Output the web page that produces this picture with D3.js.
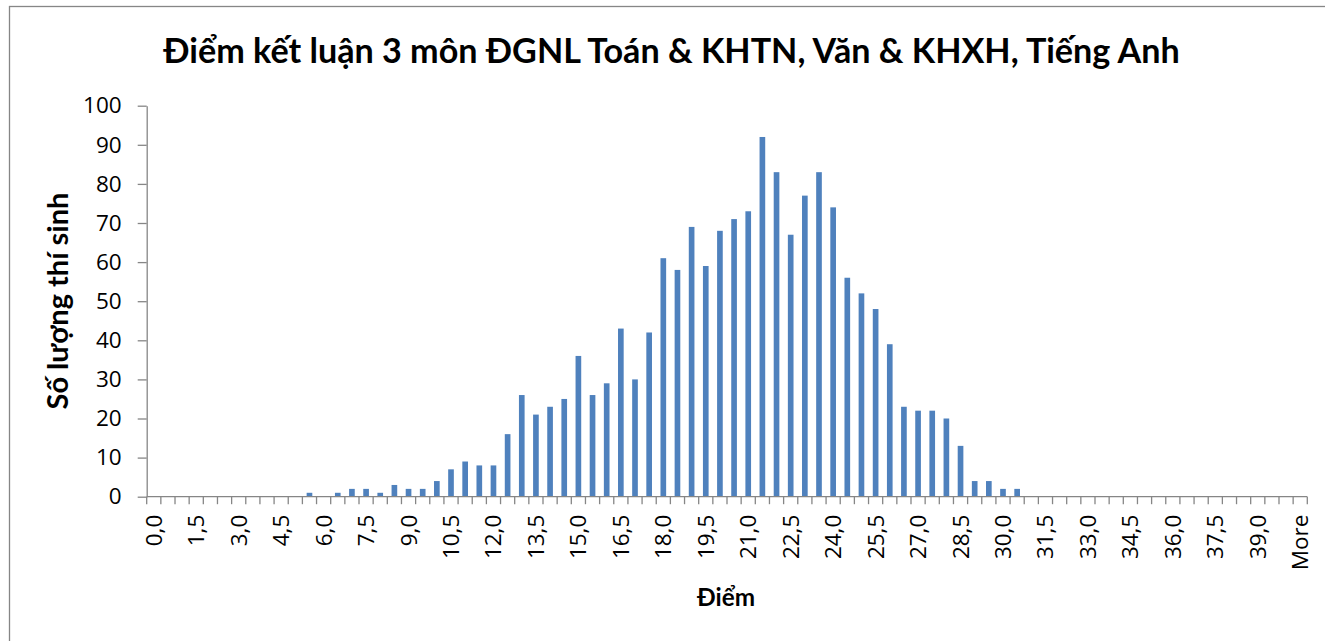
<!DOCTYPE html>
<html>
<head>
<meta charset="utf-8">
<script src="https://cdn.jsdelivr.net/npm/d3@7"></script>
<style>
    body { margin: 0; background: #fff; }
    svg { display: block; font-family: "Open Sans", sans-serif; }
    .axis path, .axis line { stroke: #868686; }
</style>
</head>
<body>
<svg id="canvas" width="1325" height="641"></svg>
<script>
const WIDTH = 1325;
const HEIGHT = 641;
const AXIS_COLOR = "#868686";
const BAR_COLOR = "#4F81BD";
const TITLE_FONT = "Lato, 'Open Sans', sans-serif";

// score bins as shown on the category axis (Excel histogram output)
var categories = [
    "0,0", "0,5", "1,0", "1,5", "2,0", "2,5", "3,0", "3,5", "4,0", "4,5",
    "5,0", "5,5", "6,0", "6,5", "7,0", "7,5", "8,0", "8,5", "9,0", "9,5",
    "10,0", "10,5", "11,0", "11,5", "12,0", "12,5", "13,0", "13,5", "14,0", "14,5",
    "15,0", "15,5", "16,0", "16,5", "17,0", "17,5", "18,0", "18,5", "19,0", "19,5",
    "20,0", "20,5", "21,0", "21,5", "22,0", "22,5", "23,0", "23,5", "24,0", "24,5",
    "25,0", "25,5", "26,0", "26,5", "27,0", "27,5", "28,0", "28,5", "29,0", "29,5",
    "30,0", "30,5", "31,0", "31,5", "32,0", "32,5", "33,0", "33,5", "34,0", "34,5",
    "35,0", "35,5", "36,0", "36,5", "37,0", "37,5", "38,0", "38,5", "39,0", "39,5",
    "40,0", "More"
];

// number of candidates per bin
var counts = [
    0, 0, 0, 0, 0, 0, 0, 0, 0, 0,
    0, 1, 0, 1, 2, 2, 1, 3, 2, 2,
    4, 7, 9, 8, 8, 16, 26, 21, 23, 25,
    36, 26, 29, 43, 30, 42, 61, 58, 69, 59,
    68, 71, 73, 92, 83, 67, 77, 83, 74, 56,
    52, 48, 39, 23, 22, 22, 20, 13, 4, 4,
    2, 2, 0, 0, 0, 0, 0, 0, 0, 0,
    0, 0, 0, 0, 0, 0, 0, 0, 0, 0,
    0, 0
];

// only every third bin gets a label
var tickLabels = categories.filter(function(c, i){ return i % 3 == 0; });
var yTicks = [0, 10, 20, 30, 40, 50, 60, 70, 80, 90, 100];

const title = "Điểm kết luận 3 môn ĐGNL Toán & KHTN, Văn & KHXH, Tiếng Anh";
const yTitle = "Số lượng thí sinh";
const xTitle = "Điểm";

var margin = {left: 146.7, right: WIDTH - 1307.3, top: 105.7, bottom: HEIGHT - 496.7};

var svg = d3.select("#canvas");

// chart frame (runs off the right and bottom edge)
svg.append("rect")
    .attr("x", 9.5)
    .attr("y", 6.5)
    .attr("width", WIDTH + 20)
    .attr("height", HEIGHT + 20)
    .attr("fill", "none")
    .attr("stroke", AXIS_COLOR)
    .attr("stroke-width", 1.3);

var x = d3.scaleBand()
    .domain(categories)
    .range([margin.left, WIDTH - margin.right])
    .paddingInner(0.6)
    .paddingOuter(0.3);

var y = d3.scaleLinear()
    .domain([0, 100])
    .range([HEIGHT - margin.bottom, margin.top]);

var step = x.step();
var x0 = margin.left;

// bars
svg.append("g")
    .selectAll("rect")
    .data(counts)
    .enter()
    .append("rect")
    .attr("x", function(d, i){ return x(categories[i]); })
    .attr("width", x.bandwidth())
    .attr("y", function(d){ return y(d); })
    .attr("height", function(d){ return y(0) - y(d); })
    .attr("fill", BAR_COLOR);

// y axis
var yAxis = svg.append("g")
    .attr("class", "axis")
    .attr("transform", "translate(" + x0 + ",0)")
    .call(d3.axisLeft(y).tickValues(yTicks).tickSize(9).tickSizeOuter(0).tickPadding(16));
yAxis.selectAll("path, line").attr("stroke-width", 1.3);
yAxis.selectAll("text")
    .attr("font-size", 22.5)
    .attr("fill", "#000")
    .attr("font-family", "Open Sans");

// x axis: line plus ticks between categories
var xAxis = svg.append("g").attr("class", "axis");
xAxis.append("line")
    .attr("x1", x0)
    .attr("x2", WIDTH - margin.right)
    .attr("y1", y(0))
    .attr("y2", y(0))
    .attr("stroke-width", 1.3);

var boundaries = d3.range(categories.length + 1);
xAxis.selectAll(".bTick")
    .data(boundaries)
    .enter()
    .append("line")
    .attr("x1", function(b){ return x0 + b*step; })
    .attr("x2", function(b){ return x0 + b*step; })
    .attr("y1", y(0))
    .attr("y2", y(0) + 7.5)
    .attr("stroke-width", 1.3);

svg.append("g")
    .selectAll("text")
    .data(tickLabels)
    .enter()
    .append("text")
    .attr("transform", function(d){
        var cx = x(d) + x.bandwidth()/2 + 8;
        return "translate(" + cx + "," + (y(0) + 18) + ") rotate(-90)";
    })
    .attr("text-anchor", "end")
    .attr("font-size", 22.5)
    .text(function(d){ return d; });

/**
 * shrink or grow a text node's font size so it spans the given width
 */
function fitText(sel, width){
    var fs = parseFloat(sel.attr("font-size"));
    var len = sel.node().getComputedTextLength();
    sel.attr("font-size", fs*width/len);
}

var t = svg.append("text")
    .attr("x", 671.5)
    .attr("y", 63)
    .attr("text-anchor", "middle")
    .attr("font-family", TITLE_FONT)
    .attr("font-weight", "bold")
    .attr("font-size", 30)
    .text(title);
fitText(t, 1017);

var yt = svg.append("text")
    .attr("transform", "translate(68,301) rotate(-90)")
    .attr("text-anchor", "middle")
    .attr("font-family", TITLE_FONT)
    .attr("font-weight", "bold")
    .attr("font-size", 24)
    .text(yTitle);
fitText(yt, 217);

var xt = svg.append("text")
    .attr("x", 726)
    .attr("y", 606)
    .attr("text-anchor", "middle")
    .attr("font-family", TITLE_FONT)
    .attr("font-weight", "bold")
    .attr("font-size", 18)
    .text(xTitle);
fitText(xt, 58);
</script>
</body>
</html>
